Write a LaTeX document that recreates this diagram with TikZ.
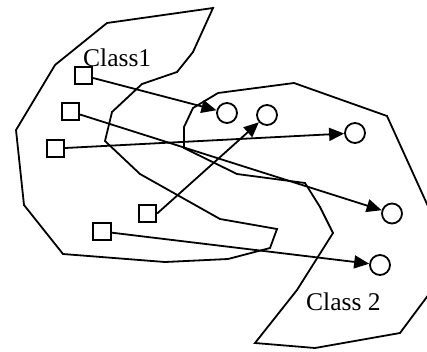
\documentclass[tikz,border=0pt]{standalone}
\usepackage{fontspec}
\setmainfont{Liberation Serif}
\usetikzlibrary{arrows.meta}
\begin{document}
\begin{tikzpicture}[x=1pt,y=-1pt,
  outline/.style={line width=1.8pt,line join=miter},
  member/.style={draw,line width=1.8pt,rectangle,minimum size=17.5pt,inner sep=0pt},
  target/.style={draw,line width=1.8pt,circle,minimum size=20pt,inner sep=0pt},
  link/.style={line width=1.8pt,-{Triangle[length=15pt,width=13pt]}},
  caption/.style={inner sep=0pt,anchor=base west,font=\fontsize{25.5}{30}\selectfont}]
\clip (0,0) rectangle (427,351);

% class regions
\draw[outline] (213,8) -- (107,23) -- (55,65) -- (16,130) -- (24,205) -- (63,254)
  -- (165,262) -- (228,259) -- (270,248) -- (277,229) -- (220,219) -- (140,174)
  -- (105,141) -- (112,112) -- (142,84) -- (177,72) -- (193,52) -- cycle;
\draw[outline] (218,93) -- (294,83) -- (387,116) -- (432,215) -- (432,290) -- (400,333)
  -- (315,348) -- (255,343) -- (297,290) -- (333,233) -- (320,207) -- (305,183)
  -- (237,174) -- (184,148) -- (184,127) -- (193,108) -- cycle;

% labels
\node[caption] (lab1) at (83,66) {Class1};
\node[caption] (lab2) at (306,310) {Class 2};

% source elements
\node[member] (s1) at (83.5,75.5) {};
\node[member] (s2) at (70.5,111.5) {};
\node[member] (s3) at (55.5,148.5) {};
\node[member] (s4) at (147.5,213.5) {};
\node[member] (s5) at (102,231.5) {};

% target elements
\node[target] (c1) at (227,113) {};
\node[target] (c2) at (267,115) {};
\node[target] (c3) at (355,133) {};
\node[target] (c4) at (392,213.5) {};
\node[target] (c5) at (380,265) {};

% mappings
\draw[link] (s1) -- (c1);
\draw[link] (s2) -- (c4);
\draw[link] (s3) -- (c3);
\draw[link] (s4.east) -- (c2);
\draw[link] (s5) -- (c5);
\end{tikzpicture}
\end{document}
